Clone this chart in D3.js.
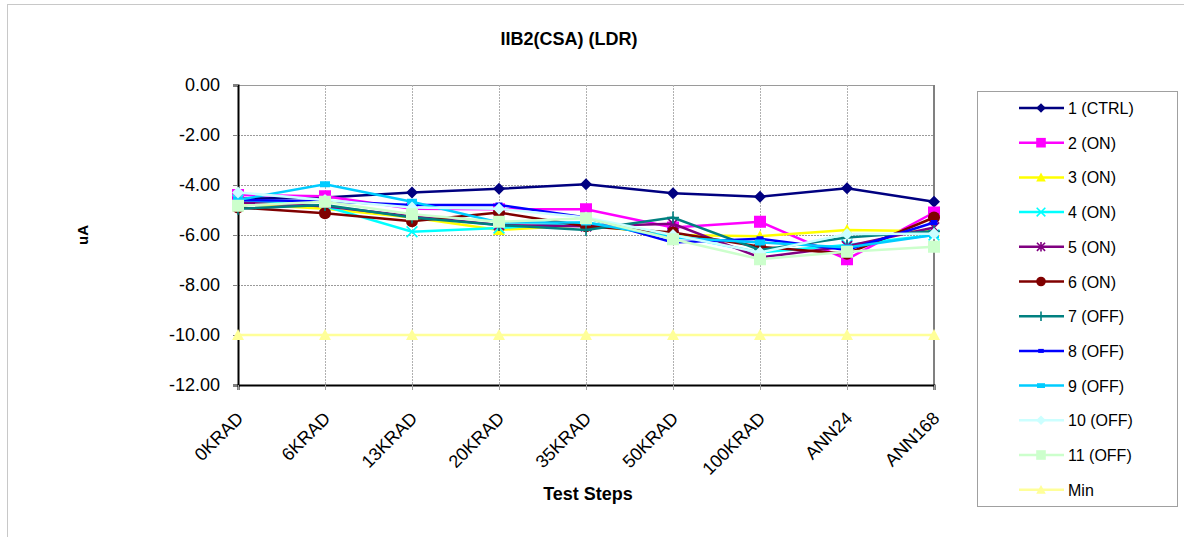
<!DOCTYPE html>
<html>
<head>
<meta charset="utf-8">
<script src="https://cdn.jsdelivr.net/npm/d3@7"></script>
<style>
  body { margin: 0; background: #fff; }
  text { font-family: Arial, "Liberation Sans", sans-serif; }
</style>
</head>
<body>
<div id="chart"></div>
<script>
// Test steps on the x axis
const categories = ["0KRAD", "6KRAD", "13KRAD", "20KRAD", "35KRAD", "50KRAD", "100KRAD", "ANN24", "ANN168"];
const yTicks = [0, -2, -4, -6, -8, -10, -12];

// Series values (uA)
const ctrl1 = [-4.55, -4.5, -4.3, -4.15, -3.97, -4.33, -4.47, -4.13, -4.67];
const on2   = [-4.4, -4.45, -4.95, -4.97, -4.97, -5.7, -5.47, -6.97, -5.1];
const on3   = [-4.75, -4.95, -5.3, -5.8, -5.6, -6.0, -6.05, -5.8, -5.85];
const on4   = [-4.6, -4.85, -5.87, -5.72, -5.5, -6.0, -6.7, -6.4, -6.0];
const on5   = [-4.7, -4.85, -5.25, -5.6, -5.65, -5.55, -6.9, -6.45, -5.7];
const on6   = [-4.9, -5.13, -5.45, -5.1, -5.65, -5.9, -6.47, -6.75, -5.3];
const off7  = [-4.95, -4.8, -5.3, -5.6, -5.8, -5.3, -6.6, -6.1, -5.85];
const off8  = [-4.6, -4.65, -4.8, -4.8, -5.3, -6.3, -6.15, -6.6, -5.5];
const off9  = [-4.6, -3.97, -4.67, -5.5, -5.5, -6.1, -6.3, -6.5, -6.0];
const off10 = [-4.3, -4.6, -4.9, -4.95, -5.3, -6.0, -6.7, -5.96, -5.95];
const off11 = [-4.83, -4.67, -5.17, -5.47, -5.33, -6.17, -6.97, -6.67, -6.47];
const minLimit = [-10, -10, -10, -10, -10, -10, -10, -10, -10];

const seriesNames = ["1 (CTRL)", "2 (ON)", "3 (ON)", "4 (ON)", "5 (ON)", "6 (ON)",
                     "7 (OFF)", "8 (OFF)", "9 (OFF)", "10 (OFF)", "11 (OFF)", "Min"];
const seriesValues = [ctrl1, on2, on3, on4, on5, on6, off7, off8, off9, off10, off11, minLimit];

// look of each series (Excel default palette)
const styles = [
  {color: "#000080", marker: "diamond"},
  {color: "#FF00FF", marker: "square"},
  {color: "#FFFF00", marker: "triangle"},
  {color: "#00FFFF", marker: "x"},
  {color: "#800080", marker: "star"},
  {color: "#800000", marker: "circle"},
  {color: "#008080", marker: "plus"},
  {color: "#0000FF", marker: "dash"},
  {color: "#00CCFF", marker: "bar"},
  {color: "#CCFFFF", marker: "diamond"},
  {color: "#CCFFCC", marker: "square"},
  {color: "#FFFF99", marker: "triangle"}
];

const W = 1184, H = 537;
const plot = {left: 238, right: 934, top: 85, bottom: 385};

const svg = d3.select("#chart").append("svg")
    .attr("width", W)
    .attr("height", H);

// chart area border
svg.append("rect")
    .attr("x", 7.5).attr("y", 4.5)
    .attr("width", W + 10).attr("height", H - 3)
    .attr("fill", "none")
    .attr("stroke", "#c8c8c8");

const x = d3.scalePoint().domain(categories).range([plot.left, plot.right]).padding(0);
const y = d3.scaleLinear().domain([-12, 0]).range([plot.bottom, plot.top]);

// gridlines
const grid = svg.append("g");
grid.selectAll(".hg").data(yTicks.filter(d => d > -12))
  .enter().append("line")
    .attr("x1", plot.left).attr("x2", plot.right)
    .attr("y1", d => Math.round(y(d)) + 0.5).attr("y2", d => Math.round(y(d)) + 0.5)
    .attr("stroke", "#9a9a9a")
    .attr("stroke-dasharray", d => d === 0 ? null : "2,1");
grid.selectAll(".vg").data(categories.slice(1, -1))
  .enter().append("line")
    .attr("x1", d => Math.round(x(d)) + 0.5).attr("x2", d => Math.round(x(d)) + 0.5)
    .attr("y1", plot.top).attr("y2", plot.bottom)
    .attr("stroke", "#b0b0b0")
    .attr("stroke-dasharray", "2,1");
// right edge of plot area
svg.append("line")
    .attr("x1", plot.right).attr("x2", plot.right)
    .attr("y1", plot.top).attr("y2", plot.bottom)
    .attr("stroke", "#808080").attr("stroke-width", 2);

// y axis
const fmt = d3.format(".2f");
const yAxis = svg.append("g")
    .attr("transform", `translate(${plot.left},0)`)
    .call(d3.axisLeft(y).tickValues(yTicks).tickSize(5).tickPadding(13)
      .tickFormat(d => fmt(d).replace("\u2212", "-")));
yAxis.select(".domain").attr("stroke", "#000").attr("stroke-width", 2);
yAxis.selectAll(".tick line").attr("stroke", "#808080");
yAxis.selectAll("text").attr("font-size", 18).attr("font-family", "Arial, 'Liberation Sans', sans-serif").attr("fill", "#000");

// x axis
const xAxis = svg.append("g")
    .attr("transform", `translate(0,${plot.bottom})`)
    .call(d3.axisBottom(x).tickSize(5).tickFormat(""));
xAxis.select(".domain").attr("stroke", "#000").attr("stroke-width", 2);
xAxis.selectAll(".tick line").attr("stroke", "#a0a0a0");

svg.append("g").selectAll("text").data(categories)
  .enter().append("text")
    .attr("transform", d => `translate(${x(d) + 2},415) rotate(-45)`)
    .attr("text-anchor", "end")
    .attr("dy", "0.35em")
    .attr("font-size", 18)
    .text(d => d);

// titles
svg.append("text")
    .attr("x", 569).attr("y", 45)
    .attr("text-anchor", "middle")
    .attr("font-size", 18).attr("font-weight", "bold")
    .text("IIB2(CSA) (LDR)");
svg.append("text")
    .attr("x", 588).attr("y", 500)
    .attr("text-anchor", "middle")
    .attr("font-size", 18).attr("font-weight", "bold")
    .text("Test Steps");
svg.append("text")
    .attr("transform", "translate(88,235) rotate(-90)")
    .attr("text-anchor", "middle")
    .attr("font-size", 15).attr("font-weight", "bold")
    .text("uA");

// marker drawing
function drawMarker(g, type, color, k) {
  const r = 6 * k;
  if (type === "diamond") {
    g.append("path").attr("d", `M0,${-r}L${r},0L0,${r}L${-r},0Z`).attr("fill", color);
  } else if (type === "square") {
    g.append("rect").attr("x", -r).attr("y", -r).attr("width", 2 * r).attr("height", 2 * r).attr("fill", color);
  } else if (type === "triangle") {
    g.append("path").attr("d", `M0,${-r}L${r},${r * 0.85}L${-r},${r * 0.85}Z`).attr("fill", color);
  } else if (type === "circle") {
    g.append("circle").attr("r", r).attr("fill", color);
  } else if (type === "x") {
    const a = r * 0.9;
    g.append("path").attr("d", `M${-a},${-a}L${a},${a}M${-a},${a}L${a},${-a}`)
      .attr("stroke", color).attr("stroke-width", 1.6).attr("fill", "none");
  } else if (type === "star") {
    const a = r * 0.85;
    g.append("path").attr("d", `M${-a},${-a}L${a},${a}M${-a},${a}L${a},${-a}M0,${-r}L0,${r}`)
      .attr("stroke", color).attr("stroke-width", 1.6).attr("fill", "none");
  } else if (type === "plus") {
    g.append("path").attr("d", `M0,${-r}L0,${r}M${-r},0L${r},0`)
      .attr("stroke", color).attr("stroke-width", 1.6).attr("fill", "none");
  } else if (type === "dash") {
    g.append("rect").attr("x", -3.5 * k).attr("y", -2.5 * k).attr("width", 7 * k).attr("height", 5 * k).attr("fill", color);
  } else if (type === "bar") {
    g.append("rect").attr("x", -5 * k).attr("y", -3 * k).attr("width", 10 * k).attr("height", 6 * k).attr("fill", color);
  }
}

// series lines and markers
const line = d3.line().x((d, i) => x(categories[i])).y(d => y(d));
seriesValues.forEach((vals, si) => {
  const st = styles[si];
  const g = svg.append("g");
  g.append("path")
      .datum(vals)
      .attr("d", line)
      .attr("fill", "none")
      .attr("stroke", st.color)
      .attr("stroke-width", 2.5);
  vals.forEach((v, i) => {
    const m = g.append("g").attr("transform", `translate(${x(categories[i])},${y(v)})`);
    drawMarker(m, st.marker, st.color, 1);
  });
});

// legend
const legend = svg.append("g");
legend.append("rect")
    .attr("x", 977.5).attr("y", 91.5)
    .attr("width", 200).attr("height", 415)
    .attr("fill", "#fff")
    .attr("stroke", "#a0a0a0");
seriesNames.forEach((name, i) => {
  const cy = 108 + i * 34.7;
  const st = styles[i];
  legend.append("line")
      .attr("x1", 1019).attr("x2", 1064)
      .attr("y1", cy).attr("y2", cy)
      .attr("stroke", st.color).attr("stroke-width", 2.5);
  const m = legend.append("g").attr("transform", `translate(1041,${cy})`);
  drawMarker(m, st.marker, st.color, 0.8);
  legend.append("text")
      .attr("x", 1068).attr("y", cy + 6)
      .attr("font-size", 16)
      .text(name);
});
</script>
</body>
</html>
